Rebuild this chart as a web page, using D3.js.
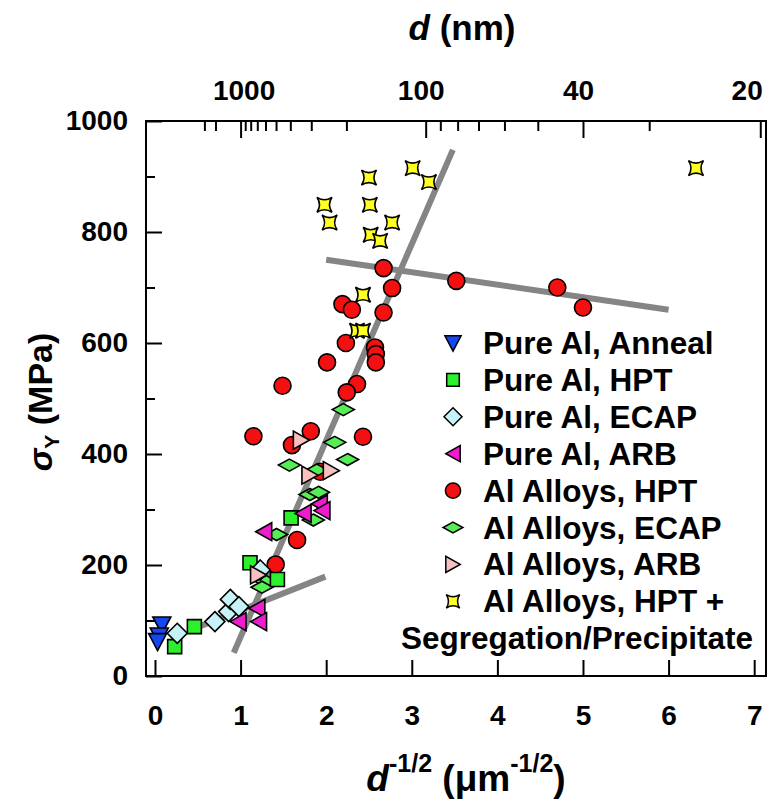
<!DOCTYPE html>
<meta charset="utf-8">
<style>
  body { margin: 0; background: #fff; }
  svg text { font-family: 'Liberation Sans', Arial, sans-serif; font-weight: bold; fill: #000; }
</style>
<script src="https://d3js.org/d3.v7.min.js"></script>
<div id="my_dataviz"></div>
<script>

// values: [d^-1/2 (um^-1/2), sigma_Y (MPa)]
var pureAnneal = [[0.08, 92], [0.05, 72], [0.03, 62]];
var pureHPT = [[0.23, 53], [0.46, 89], [1.11, 204], [1.43, 174], [1.59, 285]];
var pureECAP = [[0.26, 77], [0.70, 98], [0.86, 116], [0.88, 138], [0.98, 125], [1.23, 191]];
var pureARB = [[0.97, 98], [1.19, 122], [1.21, 98], [1.27, 260], [1.73, 293], [1.92, 310], [1.95, 298]];
var alloyHPT = [[2.67, 735], [3.52, 712], [2.77, 699], [4.70, 700], [5.00, 664], [2.19, 670],
                [2.30, 660], [2.67, 655], [2.23, 600], [2.57, 592], [2.58, 580], [2.01, 565],
                [2.58, 565], [1.49, 523], [2.36, 526], [2.24, 511], [1.15, 432], [1.82, 441],
                [1.60, 416], [2.43, 431], [1.93, 368], [1.66, 245], [1.41, 201]];
var alloyECAP = [[2.20, 480], [2.10, 421], [2.25, 390], [1.57, 380], [1.89, 371], [1.81, 327],
                 [1.91, 331], [1.85, 281], [1.42, 255], [1.30, 170], [1.25, 160]];
var alloyARB = [[1.71, 425], [1.81, 362], [2.06, 370], [1.21, 182]];
var alloySeg = [[3.01, 915], [3.20, 890], [2.50, 898], [1.98, 849], [2.51, 849], [2.04, 817],
                [2.77, 817], [2.52, 795], [2.63, 784], [2.43, 687], [2.36, 622], [2.43, 622], [6.32, 915]];

// grey trend lines
var fitLines = [[[0.92, 42], [3.48, 948]], [[2.0, 750], [6.0, 660]], [[0.5, 88], [1.99, 179]]];

// axes
var xTicks = [0, 1, 2, 3, 4, 5, 6, 7];
var yMajor = [0, 200, 400, 600, 800, 1000];
var yMinor = [100, 300, 500, 700, 900];
var dMajor = [1000, 100, 40, 20];                 // nm
var dMinor = [3000, 2000, 900, 800, 700, 600, 500, 400, 300, 200, 90, 80, 70, 60, 50, 30];

var legendNames = ["Pure Al, Anneal", "Pure Al, HPT", "Pure Al, ECAP", "Pure Al, ARB",
                   "Al Alloys, HPT", "Al Alloys, ECAP", "Al Alloys, ARB", "Al Alloys, HPT +"];

// ---------------------------------------------------------------
var width = 769, height = 801;
var plotLeft = 146, plotRight = 766, plotTop = 121, plotBottom = 676;

var svg = d3.select("#my_dataviz").append("svg")
    .attr("width", width).attr("height", height);

var x = d3.scaleLinear().domain([-0.105, 7.138]).range([plotLeft, plotRight]);
var y = d3.scaleLinear().domain([0, 1000]).range([plotBottom, plotTop]);
var toX = function(nm) { return 1 / Math.sqrt(nm / 1000); };

// marker shapes
var shapes = {
  downTri: function(k) { return "M" + (-9*k) + "," + (-8*k) + "L" + (9*k) + "," + (-8*k) + "L0," + (9*k) + "Z"; },
  square: function(k) { return "M" + (-7*k) + "," + (-7*k) + "h" + (14*k) + "v" + (14*k) + "h" + (-14*k) + "Z"; },
  diamond: function(k) { return "M0," + (-10*k) + "L" + (10*k) + ",0L0," + (10*k) + "L" + (-10*k) + ",0Z"; },
  leftTri: function(k) { return "M" + (-8*k) + ",0L" + (8*k) + "," + (-9*k) + "L" + (8*k) + "," + (9*k) + "Z"; },
  circle: function(k) { var r = 8.5*k; return "M" + (-r) + ",0A" + r + "," + r + " 0 1,1 " + r + ",0A" + r + "," + r + " 0 1,1 " + (-r) + ",0Z"; },
  flatDiamond: function(k) { return "M0," + (-6*k) + "L" + (11*k) + ",0L0," + (6*k) + "L" + (-11*k) + ",0Z"; },
  rightTri: function(k) { return "M" + (8*k) + ",0L" + (-8*k) + "," + (-9*k) + "L" + (-8*k) + "," + (9*k) + "Z"; },
  star: function(k) { var s = 7.5*k, c = 2.5*k;
    return "M" + (-s) + "," + (-s) + "Q0," + (-c) + " " + s + "," + (-s) + "Q" + c + ",0 " + s + "," + s +
           "Q0," + c + " " + (-s) + "," + s + "Q" + (-c) + ",0 " + (-s) + "," + (-s) + "Z"; }
};

var series = [
  {data: pureAnneal, shape: "downTri",     fill: "#1546f0"},
  {data: pureHPT,    shape: "square",      fill: "#2cf02c"},
  {data: pureECAP,   shape: "diamond",     fill: "#c6f3f8"},
  {data: pureARB,    shape: "leftTri",     fill: "#ee1ccd"},
  {data: alloyHPT,   shape: "circle",      fill: "#f41010"},
  {data: alloyECAP,  shape: "flatDiamond", fill: "#55ee55"},
  {data: alloyARB,   shape: "rightTri",    fill: "#f8c0c0"},
  {data: alloySeg,   shape: "star",        fill: "#ffff22"}
];
var drawOrder = [4, 7, 5, 1, 2, 6, 3, 0];

// trend lines (behind markers)
svg.append("g").selectAll("line")
  .data(fitLines).enter().append("line")
    .attr("x1", function(d) { return x(d[0][0]); })
    .attr("y1", function(d) { return y(d[0][1]); })
    .attr("x2", function(d) { return x(d[1][0]); })
    .attr("y2", function(d) { return y(d[1][1]); })
    .style("stroke", "#858585")
    .style("stroke-width", 6);

// markers
drawOrder.forEach(function(i) {
  var s = series[i];
  svg.append("g").selectAll("path")
    .data(s.data).enter().append("path")
      .attr("transform", function(d) { return "translate(" + x(d[0]) + "," + y(d[1]) + ")"; })
      .attr("d", shapes[s.shape](1))
      .style("fill", s.fill)
      .style("stroke", "#000")
      .style("stroke-width", 1.6);
});

// axes, ticks pointing inward
function styleAxis(g) {
  g.select(".domain").remove();
  g.selectAll(".tick line").style("stroke", "#000").style("stroke-width", 2);
  g.selectAll(".tick text").style("font-size", "28px");
}

svg.append("g")
  .attr("transform", "translate(0," + plotBottom + ")")
  .call(d3.axisBottom(x).tickValues(xTicks).tickSize(-16).tickPadding(29).tickFormat(d3.format("d")))
  .call(styleAxis);

svg.append("g")
  .attr("transform", "translate(" + plotLeft + ",0)")
  .call(d3.axisLeft(y).tickValues(yMajor).tickSize(-16).tickPadding(18).tickFormat(d3.format("d")))
  .call(styleAxis);

svg.append("g")
  .attr("transform", "translate(" + plotLeft + ",0)")
  .call(d3.axisLeft(y).tickValues(yMinor).tickSize(-9).tickFormat(""))
  .call(styleAxis);

var topAxis = svg.append("g")
  .attr("transform", "translate(0," + plotTop + ")")
  .call(d3.axisTop(x).tickValues(dMajor.map(toX)).tickSize(-17).tickPadding(21)
        .tickFormat(function(v) { return Math.round(1000 / (v * v)); }))
  .call(styleAxis);
topAxis.selectAll(".tick text")
  .attr("text-anchor", function(v) { return v > 7 ? "end" : "middle"; })
  .attr("dx", function(v) { return v > 7 ? 2 : (v < 1.5 ? 3 : -5); });

svg.append("g")
  .attr("transform", "translate(0," + plotTop + ")")
  .call(d3.axisTop(x).tickValues(dMinor.map(toX)).tickSize(-10).tickFormat(""))
  .call(styleAxis);

// frame
svg.append("rect")
  .attr("x", plotLeft).attr("y", plotTop)
  .attr("width", plotRight - plotLeft).attr("height", plotBottom - plotTop)
  .style("fill", "none").style("stroke", "#000").style("stroke-width", 2);

// axis titles
var topTitle = svg.append("text")
  .attr("x", 462).attr("y", 40)
  .attr("text-anchor", "middle")
  .style("font-size", "35px");
topTitle.append("tspan").style("font-style", "italic").text("d");
topTitle.append("tspan").text(" (nm)");

var xTitle = svg.append("text")
  .attr("x", 466).attr("y", 791)
  .attr("text-anchor", "middle")
  .style("font-size", "37px");
xTitle.append("tspan").style("font-style", "italic").text("d");
xTitle.append("tspan").attr("dy", -19).style("font-size", "25px").text("-1/2");
xTitle.append("tspan").attr("dy", 19).text(" (\u03bcm");
xTitle.append("tspan").attr("dy", -19).style("font-size", "25px").text("-1/2");
xTitle.append("tspan").attr("dy", 19).text(")");

var yTitle = svg.append("text")
  .attr("transform", "translate(52,402)rotate(-90)")
  .attr("text-anchor", "middle")
  .style("font-size", "34px");
yTitle.append("tspan").style("font-style", "italic").text("\u03c3");
yTitle.append("tspan").attr("dy", 7).style("font-size", "21px").text("Y");
yTitle.append("tspan").attr("dy", -7).text(" (MPa)");

// legend
var legend = svg.append("g");
legendNames.forEach(function(name, i) {
  var cy = 343 + i * 36.9;
  var s = series[i];
  legend.append("path")
    .attr("transform", "translate(453," + cy + ")")
    .attr("d", shapes[s.shape](0.9))
    .style("fill", s.fill)
    .style("stroke", "#000")
    .style("stroke-width", 1.5);
  legend.append("text")
    .attr("x", 483).attr("y", cy + 11)
    .style("font-size", "31.5px")
    .text(name);
});
legend.append("text")
  .attr("x", 577).attr("y", 343 + 8 * 36.9 + 11)
  .attr("text-anchor", "middle")
  .style("font-size", "31.5px")
  .text("Segregation/Precipitate");

</script>
